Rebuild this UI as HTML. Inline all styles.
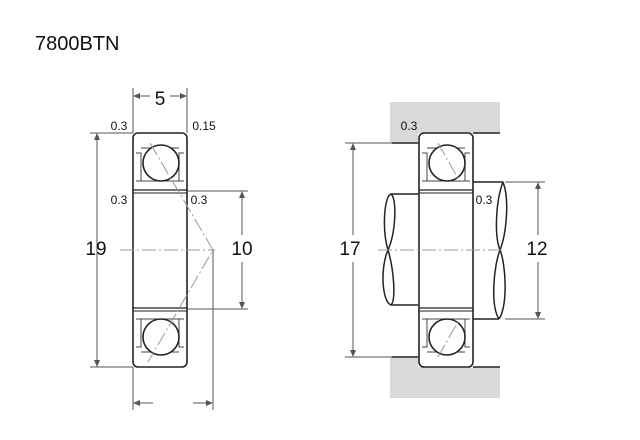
<!DOCTYPE html>
<html><head><style>body{margin:0;background:#fff}svg{display:block}</style></head><body>
<svg width="640" height="440" viewBox="0 0 640 440" xmlns="http://www.w3.org/2000/svg" font-family="Liberation Sans, sans-serif">
<rect width="640" height="440" fill="#fff"/>
<text x="35" y="50" font-size="20" fill="#111">7800BTN</text>
<defs>
<g id="brg">
  <rect x="0" y="0" width="54" height="234" rx="5" fill="#fff" stroke="#222" stroke-width="1.6"/>
  <line x1="0" y1="57" x2="54" y2="57" stroke="#222" stroke-width="1.3"/>
  <line x1="0" y1="60" x2="54" y2="60" stroke="#222" stroke-width="1"/>
  <line x1="0" y1="175" x2="54" y2="175" stroke="#222" stroke-width="1.3"/>
  <line x1="0" y1="178" x2="54" y2="178" stroke="#222" stroke-width="1"/>
  <path d="M3 20 H8 V48 H3 M51 20 H46 V48 H51 M8 48 H46 M8 15 H46" fill="none" stroke="#444" stroke-width="1"/>
  <path d="M3 186 H8 V214 H3 M51 186 H46 V214 H51 M8 186 H46 M8 219 H46" fill="none" stroke="#444" stroke-width="1"/>
  <circle cx="28" cy="30" r="18" fill="#fff" stroke="#222" stroke-width="1.6"/>
  <circle cx="28" cy="204" r="18" fill="#fff" stroke="#222" stroke-width="1.6"/>
</g>
</defs>
<!-- left -->
<use href="#brg" x="133" y="133"/>
<g stroke="#999" stroke-width="1" fill="none" stroke-dasharray="14,3,2,3">
  <line x1="120" y1="250" x2="215" y2="250"/>
  <polyline points="150,143 213,250 148,362"/>
</g>
<g stroke="#555" stroke-width="1" fill="none">
  <line x1="90" y1="133" x2="133" y2="133"/><line x1="90" y1="367" x2="133" y2="367"/>
  <line x1="97" y1="136" x2="97" y2="364"/>
  <line x1="133" y1="88" x2="133" y2="133"/><line x1="187" y1="88" x2="187" y2="133"/>
  <line x1="136" y1="96" x2="150" y2="96"/><line x1="170" y1="96" x2="184" y2="96"/>
  <line x1="187" y1="191" x2="248" y2="191"/><line x1="187" y1="309" x2="248" y2="309"/>
  <line x1="242" y1="194" x2="242" y2="235"/><line x1="242" y1="262" x2="242" y2="306"/>
  <line x1="133" y1="367" x2="133" y2="410"/><line x1="213" y1="250" x2="213" y2="410"/>
  <line x1="136" y1="403" x2="153" y2="403"/><line x1="193" y1="403" x2="210" y2="403"/>
</g>
<g fill="#555">
  <path d="M97 133 l-3 7 h6z M97 367 l-3 -7 h6z M133 96 l7 -3 v6z M187 96 l-7 -3 v6z M242 191 l-3 7 h6z M242 309 l-3 -7 h6z M133 403 l7 -3 v6z M213 403 l-7 -3 v6z"/>
</g>
<g fill="#111">
  <text x="160" y="105" font-size="19" text-anchor="middle">5</text>
  <text x="96" y="255" font-size="19" text-anchor="middle">19</text>
  <text x="242" y="255" font-size="19" text-anchor="middle">10</text>
  <text x="119" y="130" font-size="12" text-anchor="middle">0.3</text>
  <text x="204" y="130" font-size="12" text-anchor="middle">0.15</text>
  <text x="119" y="204" font-size="12" text-anchor="middle">0.3</text>
  <text x="199" y="204" font-size="12" text-anchor="middle">0.3</text>
</g>
<!-- right -->
<path d="M390 102 H500 V133 H418 V143 H390Z M390 357 H418 V367 H500 V398 H390Z" fill="#d9d9d9"/>
<g stroke="#222" stroke-width="1.5" fill="none">
  <line x1="473" y1="133" x2="500" y2="133"/><line x1="392" y1="143" x2="418" y2="143"/>
  <line x1="473" y1="367" x2="500" y2="367"/><line x1="392" y1="357" x2="418" y2="357"/>
  <path d="M418 194 H391 M418 305 H391"/>
  <path d="M391 194 C384 196 382 230 388 250 C394 270 396 300 391 305"/>
  <path d="M391 194 C397 198 396 232 388 250 C380 268 382 302 391 305"/>
  <path d="M473 182 H503 M473 319 H499"/>
  <path d="M503 182 C510 200 506 235 500 250 C494 265 490 305 499 319"/>
  <path d="M503 182 C496 200 494 235 500 250 C506 265 508 305 499 319"/>
</g>
<use href="#brg" x="419" y="133"/>
<g stroke="#999" stroke-width="1" fill="none" stroke-dasharray="14,3,2,3">
  <line x1="378" y1="250" x2="505" y2="250"/>
  <line x1="438" y1="143" x2="460" y2="182"/>
  <line x1="438" y1="357" x2="460" y2="318"/>
</g>
<g stroke="#555" stroke-width="1" fill="none">
  <line x1="345" y1="143" x2="392" y2="143"/><line x1="345" y1="357" x2="392" y2="357"/>
  <line x1="353" y1="146" x2="353" y2="235"/><line x1="353" y1="262" x2="353" y2="354"/>
  <line x1="505" y1="182" x2="545" y2="182"/><line x1="505" y1="319" x2="545" y2="319"/>
  <line x1="538" y1="185" x2="538" y2="235"/><line x1="538" y1="262" x2="538" y2="316"/>
</g>
<g fill="#555"><path d="M353 143 l-3 7 h6z M353 357 l-3 -7 h6z M538 182 l-3 7 h6z M538 319 l-3 -7 h6z"/></g>
<g fill="#111">
  <text x="350" y="255" font-size="19" text-anchor="middle">17</text>
  <text x="537" y="255" font-size="19" text-anchor="middle">12</text>
  <text x="409" y="130" font-size="12" text-anchor="middle">0.3</text>
  <text x="484" y="204" font-size="12" text-anchor="middle">0.3</text>
</g>
</svg>
</body></html>
